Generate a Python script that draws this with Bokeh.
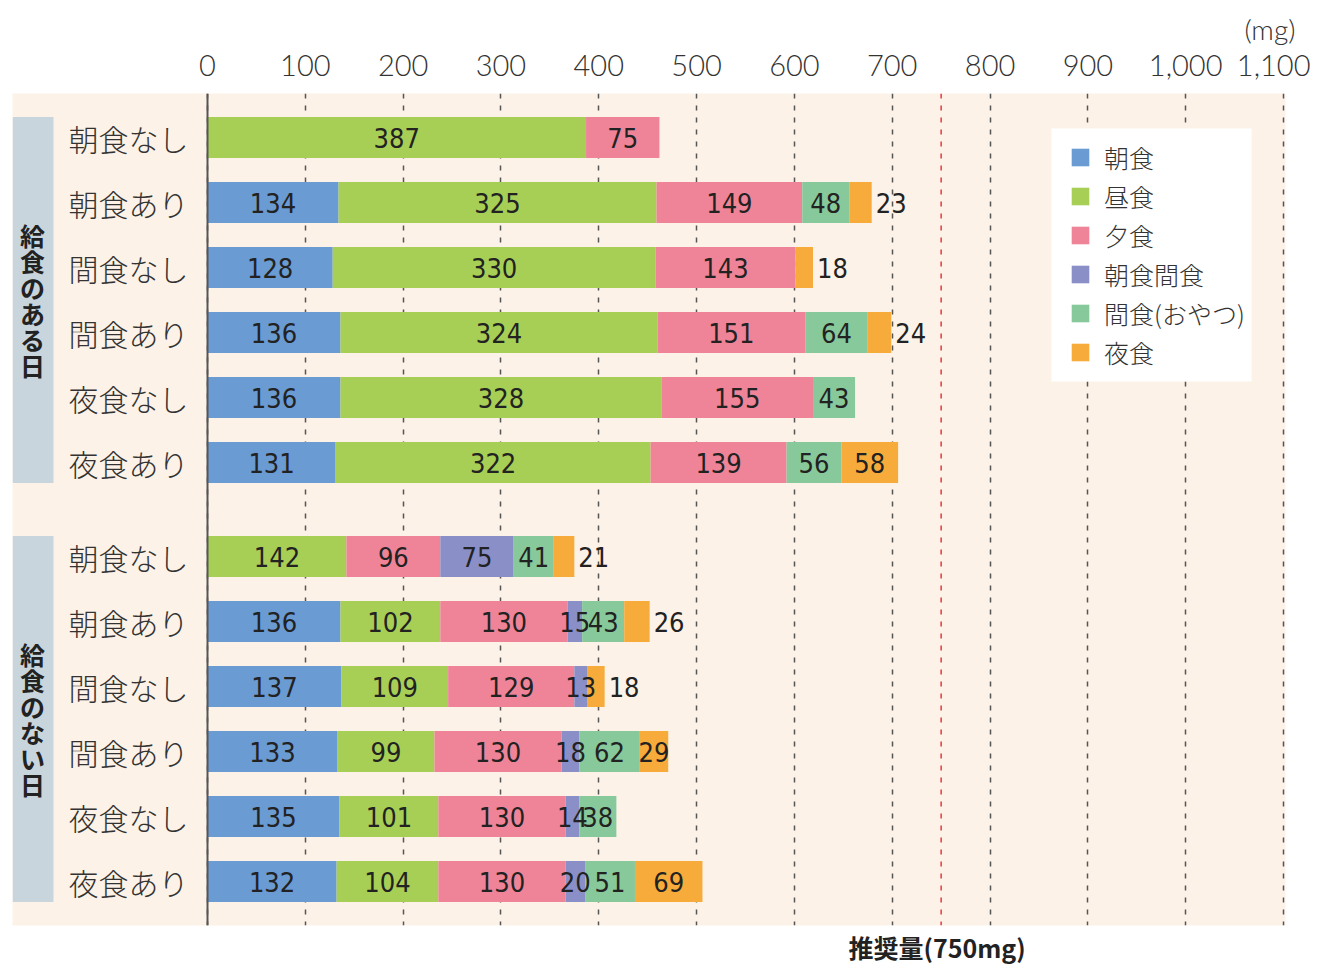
from bokeh.plotting import figure
from bokeh.models import (Range1d, FixedTicker, NumeralTickFormatter, Span, Title,
                          Legend, LegendItem, ColumnDataSource)
from bokeh.core.properties import value
from bokeh.embed import file_html
from bokeh.resources import INLINE

# ---------------- data ----------------
groups = ["給食のある日", "給食のない日"]
categories = ["朝食なし", "朝食あり", "間食なし", "間食あり", "夜食なし", "夜食あり"]
series = ["朝食", "昼食", "夕食", "朝食間食", "間食(おやつ)", "夜食"]
colors = ["#6a9bd3", "#a8cf55", "#ef8499", "#8b8fc8", "#88c99b", "#f6ab3b"]

g1_breakfast = [0, 134, 128, 136, 136, 131]
g1_lunch = [387, 325, 330, 324, 328, 322]
g1_dinner = [75, 149, 143, 151, 155, 139]
g1_morning_snack = [0, 0, 0, 0, 0, 0]
g1_snack = [0, 48, 0, 64, 43, 56]
g1_late = [0, 23, 18, 24, 0, 58]

g2_breakfast = [0, 136, 137, 133, 135, 132]
g2_lunch = [142, 102, 109, 99, 101, 104]
g2_dinner = [96, 130, 129, 130, 130, 130]
g2_morning_snack = [75, 15, 13, 18, 14, 20]
g2_snack = [41, 43, 0, 62, 38, 51]
g2_late = [21, 26, 18, 29, 0, 69]

x_ticks = list(range(0, 1101, 100))
recommended = 750
recommended_label = "推奨量(750mg)"
unit_label = "(mg)"

# ---------------- layout (canvas px) ----------------
W, H = 1310, 966
FL, FR, FT, FB = 12, 1285, 93, 925          # frame edges
X0, X1100 = 207, 1283                       # px of x=0 and x=1100
PX = (X1100 - X0) / 1100.0
x_start = (FL - X0) / PX
x_end = 1100 + (FR - X1100) / PX
ROW = 65.0
ROW0 = 137                                  # px of first row centre
GAP = 29 / ROW
y_top = -(ROW0 - FT) / ROW
y_bottom = (FB - ROW0) / ROW
BAR_H = 41 / ROW


def dx(px):
    return (px - X0) / PX


def dy(py):
    return (py - ROW0) / ROW


JPS = "'Noto Sans CJK JP Light', 'Noto Sans CJK JP DemiLight', 'Noto Sans CJK JP', sans-serif"
JP = value(JPS)
JPB = value("Noto Sans CJK JP")
LAT = "'Lato Light', 'Open Sans Light', 'Roboto Light', Lato, sans-serif"
NUM = value("'Liberation Sans Narrow', 'DejaVu Sans Condensed', 'Roboto Condensed', 'Roboto', sans-serif")

p = figure(width=W, height=H, x_range=Range1d(x_start, x_end),
           y_range=Range1d(y_bottom, y_top), output_backend="svg",
           toolbar_location=None, x_axis_location="above", y_axis_location=None,
           min_border_left=FL, min_border_right=W - FR, min_border_top=FT,
           min_border_bottom=H - FB)
p.outline_line_color = None
p.background_fill_color = "#fdf2e7"
p.border_fill_color = "white"

ax = p.xaxis[0]
ax.ticker = FixedTicker(ticks=x_ticks)
ax.formatter = NumeralTickFormatter(format="0,0")
ax.axis_line_color = None
ax.major_tick_line_color = None
ax.minor_tick_line_color = None
ax.major_label_text_font = LAT
ax.major_label_text_font_size = "29px"
ax.major_label_text_color = "#333333"
ax.major_label_standoff = 12

p.ygrid.visible = False
p.xgrid.ticker = FixedTicker(ticks=x_ticks)
p.xgrid.grid_line_color = "#555555"
p.xgrid.grid_line_dash = "5 7"
p.xgrid.grid_line_width = 1.5

# rows
ys, labels = [], []
data = {s: [] for s in series}
group_rows = [
    [g1_breakfast, g1_lunch, g1_dinner, g1_morning_snack, g1_snack, g1_late],
    [g2_breakfast, g2_lunch, g2_dinner, g2_morning_snack, g2_snack, g2_late],
]
group_pos = []
for gi, rows in enumerate(group_rows):
    base = gi * (len(categories) + GAP)
    group_pos.append(base)
    for i, cat in enumerate(categories):
        ys.append(base + i)
        labels.append(cat)
        for si, s in enumerate(series):
            data[s].append(rows[si][i])

# group boxes with vertical titles
p.quad(left=[x_start] * 2, right=[dx(53)] * 2,
       top=[b - BAR_H / 2 for b in group_pos],
       bottom=[b + len(categories) - 1 + BAR_H / 2 for b in group_pos],
       fill_color="#c9d5dd", line_color=None)
p.text(x=[dx(32)] * 2, y=[b + (len(categories) - 1) / 2 for b in group_pos],
       text=["\n".join(g) for g in groups], text_align="center", text_baseline="middle",
       text_font=JPB, text_font_size="25px", text_font_style="bold", text_color="#222222",
       text_line_height=0.72)

# category labels
p.text(x=[dx(68)] * len(ys), y=ys, text=labels, text_align="left",
       text_baseline="middle", text_font=JP, text_font_size="30px", text_color="#333333")

# legend box
p.quad(left=[dx(1051)], right=[dx(1251)], top=[dy(128)], bottom=[dy(381)],
       fill_color="white", line_color=None)

# bars
src = ColumnDataSource(dict(y=ys, **data))
renderers = p.hbar_stack(series, y="y", height=BAR_H, color=colors, source=src,
                         line_color=None)

# zero line and recommended line
p.add_layout(Span(location=0, dimension="height", line_color="#555555", line_width=2))
p.add_layout(Span(location=recommended, dimension="height", line_color="#e8383d",
                  line_width=1.5, line_dash="5 7"))

# value labels
lx, ly, lt, la = [], [], [], []
for r, y in enumerate(ys):
    left = 0
    vals = [data[s][r] for s in series]
    last = max(i for i, v in enumerate(vals) if v > 0)
    for si, v in enumerate(vals):
        if v > 0:
            if si == last and si == len(series) - 1 and v < 27:
                lx.append(left + v + 4 / PX); la.append("left")
            else:
                lx.append(left + v / 2); la.append("center")
            ly.append(y); lt.append(str(v))
        left += v
p.text(x=lx, y=ly, text=lt, text_align=la, text_baseline="middle", text_font=NUM,
       text_font_size="27px", text_color="#222222")

# unit label (above) and recommended label (below)
t_unit = Title(text=unit_label, align="left", offset=1244 - FL, text_font=LAT,
               text_font_size="28px", text_font_style="normal", text_color="#333333",
               standoff=12)
p.add_layout(t_unit, "above")
t_rec = Title(text=recommended_label, align="left", offset=848 - FL, text_font="Noto Sans CJK JP",
              text_font_size="25px", text_font_style="bold", text_color="#222222",
              standoff=2)
p.add_layout(t_rec, "below")

# legend (transparent, over the white box)
legend = Legend(items=[LegendItem(label=s, renderers=[r]) for s, r in zip(series, renderers)],
                location=(1069 - FL, FB - 370), orientation="vertical")
legend.label_text_font = JPS
legend.label_text_font_size = "25px"
legend.label_text_color = "#333333"
legend.glyph_width = 22
legend.glyph_height = 22
legend.label_standoff = 13
legend.label_height = 22
legend.spacing = 3
legend.padding = 0
legend.margin = 0
legend.border_line_color = None
legend.background_fill_alpha = 0
p.add_layout(legend, "center")

open("out.html", "w").write(file_html(p, INLINE))
